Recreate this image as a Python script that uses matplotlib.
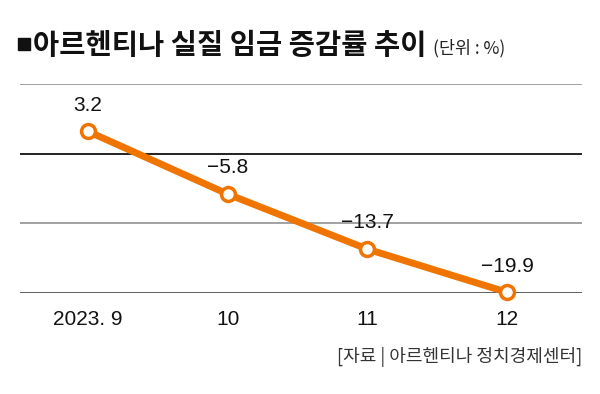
import matplotlib
matplotlib.use("Agg")
import matplotlib.pyplot as plt
from matplotlib.patches import Rectangle

# 아르헨티나 실질 임금 증감률 (%)
months = ['2023. 9', '10', '11', '12']
values = [3.2, -5.8, -13.7, -19.9]
value_labels = ['3.2', '\u22125.8', '\u221213.7', '\u221219.9']
grid_levels = [10, 0, -10, -20]

orange = '#EF7500'
kr = ['Noto Sans CJK KR', 'DejaVu Sans']
num = ['Liberation Sans', 'DejaVu Sans']

fig = plt.figure(figsize=(6.0, 3.94), dpi=100)
ax = fig.add_axes([20/600, 1 - 293/394, 562/600, 209/394])

grid_colors = ['#9a9a9a', '#111111', '#9a9a9a', '#555555']
for lvl, c in zip(grid_levels, grid_colors):
    ax.axhline(lvl, color=c, lw=1.3, zorder=1)

x = list(range(len(months)))
ax.plot(x, values, color=orange, lw=5, solid_capstyle='round', zorder=3,
        marker='o', markersize=10, markerfacecolor='white',
        markeredgecolor=orange, markeredgewidth=2.5, clip_on=False)

for xi, v, lab in zip(x, values, value_labels):
    ax.annotate(lab, (xi, v), xytext=(0, 12), textcoords='offset points',
                ha='center', va='bottom', fontsize=15, family=num,
                color='#111111', zorder=4)

ax.set_xlim(-0.487, 3.537)
ax.set_ylim(-20, 10)
ax.set_xticks(x)
ax.set_xticklabels(months, fontsize=15, family=num, color='#111111')
ax.tick_params(axis='x', length=0, pad=12)
ax.set_yticks([])
for s in ax.spines.values():
    s.set_visible(False)

# title square marker
fig.patches.append(Rectangle((18/600, 1 - 50/394), 12/600, 12/394,
                             transform=fig.transFigure, color='#111111'))
fig.text(33/600, 1 - 46/394, '아르헨티나 실질 임금 증감률 추이', fontsize=20.5,
         fontweight='bold', family=kr, color='#111111', va='center', ha='left')
fig.text(433/600, 1 - 48/394, '(단위 : %)', fontsize=12.5, family=kr,
         color='#222222', va='center', ha='left')
fig.text(582/600, 1 - 357/394, '[자료 | 아르헨티나 정치경제센터]', fontsize=13,
         family=kr, color='#333333', va='center', ha='right')

fig.savefig('out.png', dpi=100)
